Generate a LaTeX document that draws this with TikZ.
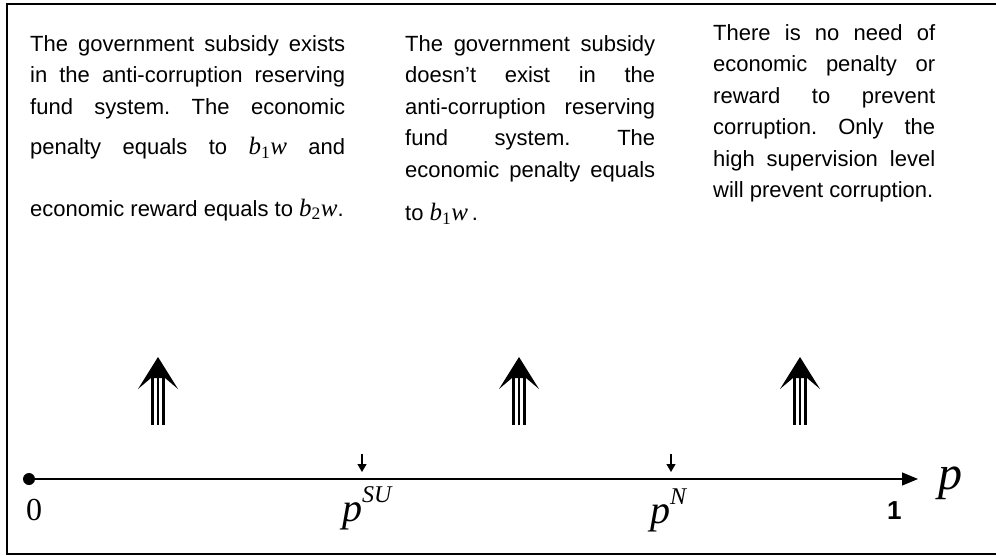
\documentclass[tikz,border=0pt]{standalone}
\usepackage{fontspec}
\setmainfont{Liberation Sans}
\newfontfamily\tms{Liberation Serif}
\usetikzlibrary{arrows.meta,positioning}
\frenchspacing
\newcommand\jl[2][315pt]{\makebox[#1][s]{#2}}
\newcommand\bw[1]{{\tms\fontsize{25}{25}\selectfont\itshape b\textsubscript{\upshape#1}w}}
\newcommand\pvar[2][40]{{\tms\itshape\fontsize{#1}{#1}\selectfont p\raisebox{19pt}{\fontsize{24}{24}\selectfont #2}}}
\begin{document}
\begin{tikzpicture}[x=1pt,y=-1pt,
    txt/.style={inner sep=0pt,align=left,anchor=north west,font=\fontsize{22}{31.5}\selectfont},
    lbl/.style={inner sep=0pt,anchor=base west},
    tickarr/.style={line width=1.3pt,-{Triangle[length=8pt,width=9pt]}}]
    \useasboundingbox (0,0) rectangle (996,556);
    \draw[line width=1.2pt] (996,4) -- (7,4) -- (7,554) -- (996,554);
    \node[txt] (sub) at (30,35) {\jl{The government subsidy exists}\\
      \jl{in the anti-corruption reserving}\\
      \jl{fund system. The economic}\\[9pt]
      \jl{penalty equals to \bw1 and}\\[30pt]
      economic reward equals to \bw2.};
    \node[txt] (nosub) at (405,35) {\jl[250pt]{The government subsidy}\\
      \jl[250pt]{doesn’t exist in the}\\
      \jl[250pt]{anti-corruption reserving}\\
      \jl[250pt]{fund system. The}\\
      \jl[250pt]{economic penalty equals}\\[12pt]
      to \bw1\,.};
    \node[txt] (nopen) at (713,24) {\jl[222pt]{There is no need of}\\
      \jl[222pt]{economic penalty or}\\
      \jl[222pt]{reward to prevent}\\
      \jl[222pt]{corruption. Only the}\\
      \jl[222pt]{high supervision level}\\
      will prevent corruption.};
    \foreach \x in {158,519,800} {
      \fill (\x,357) -- (\x+20,389) -- (\x+7,378) -- (\x-7,378) -- (\x-20,389) -- cycle;
      \foreach \d in {-5.5,0,5.5}
        \draw[line width=2.6pt] (\x+\d,377) -- (\x+\d,425);
    }
    \node[circle,fill,inner sep=0pt,minimum size=12pt] (orig) at (29,479) {};
    \coordinate (pend) at (918,479);
    \draw[line width=1.3pt,-{Triangle[length=16pt,width=13pt]}] (orig) -- (pend);
    \coordinate (su) at (362,454);
    \coordinate (n) at (671,454);
    \draw[tickarr] (su) -- ++(0,18);
    \draw[tickarr] (n) -- ++(0,18);
    \node[lbl] (zero) at (26,520) {\tms\fontsize{32}{32}\selectfont 0};
    \node[lbl] (psu) at (342,521) {\pvar{SU}};
    \node[lbl] (pn) at (650,523) {\pvar{N}};
    \node[lbl] (one) at (887,519) {\bfseries\fontsize{26}{26}\selectfont 1};
    \node[lbl] (paxis) at (938,489) {\tms\itshape\fontsize{48}{48}\selectfont p};
\end{tikzpicture}
\end{document}
